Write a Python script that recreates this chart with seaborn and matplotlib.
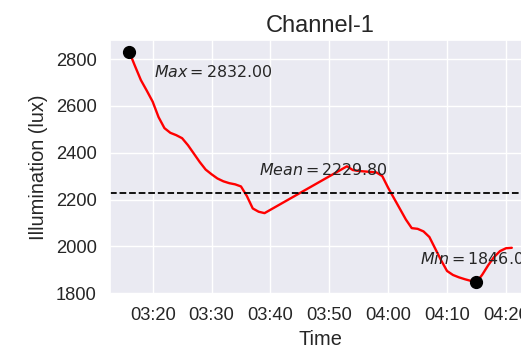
import matplotlib
matplotlib.use("Agg")
import matplotlib.pyplot as plt
import matplotlib.dates as mdates
import numpy as np
import pandas as pd
import seaborn as sns

# Illumination readings for channel 1
times = [
    "03:16", "03:17", "03:18", "03:19", "03:20", "03:21", "03:22", "03:23",
    "03:24", "03:25", "03:26", "03:27", "03:28", "03:29", "03:30", "03:31",
    "03:32", "03:33", "03:34", "03:35", "03:36", "03:37", "03:38", "03:39",
    "03:53", "03:54", "03:55", "03:56", "03:57", "03:58", "03:59", "04:00",
    "04:01", "04:02", "04:03", "04:04", "04:05", "04:06", "04:07", "04:08",
    "04:09", "04:10", "04:11", "04:12", "04:13", "04:14", "04:15", "04:16",
    "04:17", "04:18", "04:19", "04:20", "04:21",
]
lux = [
    2832, 2770, 2710, 2665, 2618, 2552, 2505, 2485,
    2475, 2462, 2432, 2396, 2360, 2328, 2308, 2290,
    2278, 2270, 2265, 2256, 2215, 2162, 2148, 2142,
    2342, 2326, 2322, 2320, 2318, 2316, 2300, 2250,
    2205, 2160, 2115, 2078, 2075, 2064, 2040, 1990,
    1940, 1895, 1878, 1868, 1860, 1853, 1846, 1880,
    1920, 1955, 1980, 1992, 1994,
]
max_value = 2832.00
min_value = 1846.00
mean_value = 2229.80
title = "Channel-1"

df = pd.DataFrame({
    "Time": pd.to_datetime(["2021-01-01 " + t for t in times]),
    "Illumination (lux)": lux,
})

sns.set_theme(style="darkgrid", font_scale=1.2)
plt.rcParams["font.family"] = ["Liberation Sans", "DejaVu Sans"]

fig = plt.figure(figsize=(5.21, 3.5), dpi=100)
ax = fig.add_axes([0.2111, 0.16, 0.808, 0.7257])

sns.lineplot(data=df, x="Time", y="Illumination (lux)", color="red",
             linewidth=1.7, ax=ax)

t_max = df.loc[df["Illumination (lux)"].idxmax(), "Time"]
t_min = df.loc[df["Illumination (lux)"].idxmin(), "Time"]
ax.plot([t_max], [max_value], "o", color="black", markersize=8.5, zorder=5)
ax.plot([t_min], [min_value], "o", color="black", markersize=8.5, zorder=5)

ax.axhline(mean_value, color="black", linestyle="--", linewidth=1.3)

ann_size = 11.4
ax.annotate(f"$Max = {max_value:.2f}$", xy=(t_max, max_value),
            xytext=(17.8, -14.6), textcoords="offset points",
            ha="left", va="center", fontsize=ann_size, color="#262626")
ax.annotate(f"$Min = {min_value:.2f}$", xy=(t_min, min_value),
            xytext=(-40.5, 16.8), textcoords="offset points",
            ha="left", va="center", fontsize=ann_size, color="#262626")
ax.text(pd.Timestamp("2021-01-01 03:38:06"), mean_value + 95,
        f"$Mean = {mean_value:.2f}$", ha="left", va="center",
        fontsize=ann_size, color="#262626")

ax.xaxis.set_major_locator(mdates.MinuteLocator(byminute=range(0, 60, 10)))
ax.xaxis.set_major_formatter(mdates.DateFormatter("%H:%M"))
ax.set_title(title, fontsize=17)
ax.set_xlabel("Time")
ax.set_ylabel("Illumination (lux)", labelpad=6)

fig.savefig("out.png", dpi=100)
